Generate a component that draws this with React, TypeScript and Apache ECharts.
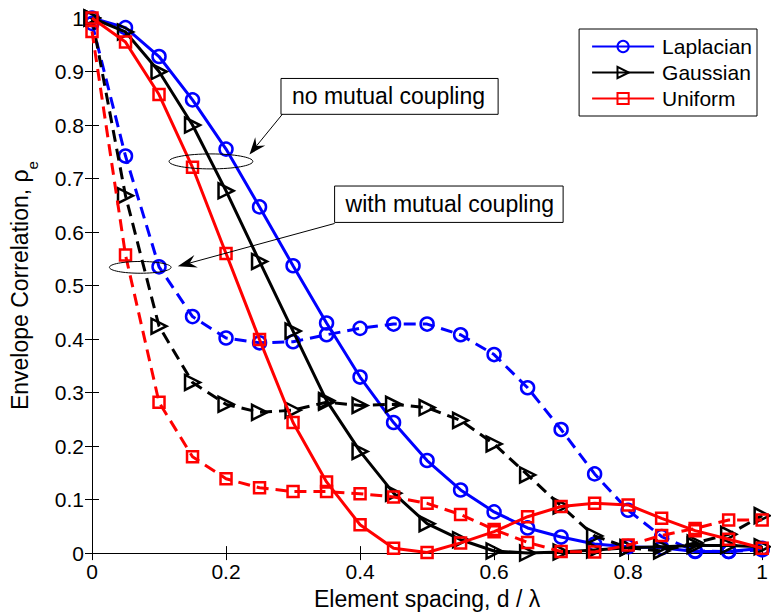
import React, { useEffect, useRef } from "react";
import * as echarts from "echarts";

// Element spacing d / lambda
const spacing = [0, 0.05, 0.1, 0.15, 0.2, 0.25, 0.3, 0.35, 0.4, 0.45, 0.5, 0.55, 0.6, 0.65, 0.7, 0.75, 0.8, 0.85, 0.9, 0.95, 1.0];

// No mutual coupling (solid)
const laplacianNoMC = [1.0, 0.982, 0.928, 0.847, 0.755, 0.647, 0.537, 0.43, 0.329, 0.244, 0.173, 0.118, 0.077, 0.047, 0.03, 0.017, 0.012, 0.01, 0.003, 0.003, 0.009];
const gaussianNoMC = [1.0, 0.974, 0.9, 0.8, 0.677, 0.545, 0.415, 0.285, 0.19, 0.112, 0.055, 0.025, 0.004, 0.0, 0.002, 0.006, 0.01, 0.012, 0.014, 0.014, 0.012];
const uniformNoMC = [1.0, 0.955, 0.857, 0.721, 0.56, 0.399, 0.244, 0.133, 0.053, 0.009, 0.001, 0.019, 0.04, 0.068, 0.087, 0.093, 0.09, 0.065, 0.042, 0.026, 0.009];

// With mutual coupling (dashed)
const laplacianMC = [0.99, 0.742, 0.535, 0.442, 0.402, 0.393, 0.395, 0.408, 0.42, 0.428, 0.428, 0.408, 0.371, 0.309, 0.231, 0.148, 0.08, 0.031, 0.004, 0.003, 0.006];
const gaussianMC = [1.0, 0.668, 0.424, 0.319, 0.278, 0.263, 0.267, 0.282, 0.276, 0.278, 0.272, 0.248, 0.204, 0.146, 0.088, 0.032, 0.01, 0.004, 0.019, 0.035, 0.07];
const uniformMC = [0.975, 0.557, 0.282, 0.18, 0.139, 0.122, 0.115, 0.115, 0.111, 0.105, 0.093, 0.072, 0.044, 0.02, 0.003, 0.002, 0.015, 0.033, 0.046, 0.062, 0.062];

const legendNames = ["Laplacian", "Gaussian", "Uniform"];

// Annotation texts
const noMcLabel = "no mutual coupling";
const mcLabel = "with mutual coupling";

const FONT = "'Liberation Sans', Arial, Helvetica, sans-serif";

export default function App() {
  const ref = useRef<HTMLDivElement>(null);

  useEffect(() => {
    const chart = echarts.init(ref.current!, null, { renderer: "svg" });

    const mk = (
      name: string,
      values: number[],
      color: string,
      symbol: string,
      size: number,
      dashed: boolean,
      rotate: number,
      z: number
    ) => ({
      type: "line",
      name,
      data: spacing.map((x, i) => [x, values[i]]),
      symbol,
      symbolSize: size,
      symbolRotate: rotate,
      showAllSymbol: true,
      clip: false,
      silent: true,
      z,
      lineStyle: { color, width: 3, type: dashed ? [12, 7] : "solid" },
      itemStyle: { color: "rgba(255,255,255,0)", borderColor: color, borderWidth: 2.5 },
      emphasis: { disabled: true },
    });

    const axisCommon = {
      type: "value",
      min: 0,
      max: 1,
      axisLine: { show: true, lineStyle: { color: "#000", width: 1 } },
      axisTick: { show: true, inside: true, length: 7, lineStyle: { color: "#000", width: 1 } },
      splitLine: { show: false },
    };

    chart.setOption({
      animation: false,
      backgroundColor: "#fff",
      grid: { left: 90, right: 1, top: 18, bottom: 58, containLabel: false },
      legend: {
        data: legendNames,
        orient: "vertical",
        right: 14,
        top: 29,
        backgroundColor: "#fff",
        borderColor: "#000",
        borderWidth: 1,
        borderRadius: 0,
        padding: [7, 5, 7, 12],
        itemWidth: 62,
        itemHeight: 14,
        itemGap: 5,
        selectedMode: false,
        textStyle: { fontSize: 21, fontFamily: FONT, color: "#000", padding: [0, 0, 0, 3] },
      },
      xAxis: [
        {
          ...axisCommon,
          interval: 0.2,
          position: "bottom",
          axisLabel: { fontSize: 21, fontFamily: FONT, color: "#000", margin: 8 },
          name: "Element spacing, d / λ",
          nameLocation: "middle",
          nameGap: 30,
          nameTextStyle: { fontSize: 23, fontFamily: FONT, color: "#000" },
        },
        {
          ...axisCommon,
          interval: 0.2,
          position: "top",
          axisLabel: { show: false },
        },
      ],
      yAxis: [
        {
          ...axisCommon,
          interval: 0.1,
          position: "left",
          axisLabel: { fontSize: 21, fontFamily: FONT, color: "#000", margin: 8 },
          name: "{m|Envelope Correlation, ρ}{sub|e}",
          nameLocation: "middle",
          nameGap: 52,
          nameRotate: 90,
          nameTextStyle: {
            fontSize: 23,
            fontFamily: FONT,
            color: "#000",
            rich: {
              m: { fontSize: 23, fontFamily: FONT, color: "#000", lineHeight: 23, verticalAlign: "top" },
              sub: { fontSize: 15, fontFamily: FONT, color: "#000", lineHeight: 32, verticalAlign: "bottom" },
            },
          },
        },
        {
          ...axisCommon,
          interval: 0.1,
          position: "right",
          axisLabel: { show: false },
        },
      ],
      series: [
        mk("Laplacian", laplacianNoMC, "#0000ff", "circle", 13, false, 0, 2),
        mk("Laplacian MC", laplacianMC, "#0000ff", "circle", 13, true, 0, 2),
        mk("Gaussian", gaussianNoMC, "#000000", "triangle", 15, false, -90, 3),
        mk("Gaussian MC", gaussianMC, "#000000", "triangle", 15, true, -90, 3),
        mk("Uniform", uniformNoMC, "#ff0000", "rect", 11, false, 0, 4),
        mk("Uniform MC", uniformMC, "#ff0000", "rect", 11, true, 0, 4),
      ],
    });

    const px = (p: number[]) => chart.convertToPixel({ gridIndex: 0 }, p) as number[];

    const arrow = (from: number[], to: number[], len: number, half: number) => {
      const dx = to[0] - from[0];
      const dy = to[1] - from[1];
      const L = Math.hypot(dx, dy);
      const ux = dx / L;
      const uy = dy / L;
      const nx = -uy;
      const ny = ux;
      const bx = to[0] - ux * len;
      const by = to[1] - uy * len;
      const notch = [to[0] - ux * len * 0.65, to[1] - uy * len * 0.65];
      return [
        {
          type: "line",
          shape: { x1: from[0], y1: from[1], x2: notch[0], y2: notch[1] },
          style: { stroke: "#000", lineWidth: 1 },
          z: 100,
        },
        {
          type: "polygon",
          shape: {
            points: [
              [to[0], to[1]],
              [bx + nx * half, by + ny * half],
              notch,
              [bx - nx * half, by - ny * half],
            ],
          },
          style: { fill: "#000" },
          z: 100,
        },
      ];
    };

    const ellipse = (x0: number, y0: number, x1: number, y1: number) => {
      const a = px([x0, y0]);
      const b = px([x1, y1]);
      return {
        type: "ellipse",
        shape: { cx: (a[0] + b[0]) / 2, cy: (a[1] + b[1]) / 2, rx: Math.abs(b[0] - a[0]) / 2, ry: Math.abs(b[1] - a[1]) / 2 },
        style: { fill: "none", stroke: "#000", lineWidth: 1 },
        z: 100,
      };
    };

    const box = (x0: number, y0: number, x1: number, y1: number, text: string, pad: number) => {
      const a = px([x0, y0]);
      const b = px([x1, y1]);
      return [
        {
          type: "rect",
          shape: { x: a[0], y: a[1], width: b[0] - a[0], height: b[1] - a[1] },
          style: { fill: "#fff", stroke: "#000", lineWidth: 1 },
          z: 100,
        },
        {
          type: "text",
          x: a[0] + pad,
          y: (a[1] + b[1]) / 2,
          style: { text, fontSize: 23, fontFamily: FONT, fill: "#000", align: "left", verticalAlign: "middle" },
          z: 101,
        },
      ];
    };

    chart.setOption({
      graphic: [
        ellipse(0.115, 0.746, 0.24, 0.718),
        ...box(0.282, 0.887, 0.606, 0.82, noMcLabel, 11),
        ...arrow(px([0.284, 0.82]), px([0.235, 0.745]), 17, 6.5),
        ellipse(0.026, 0.545, 0.118, 0.523),
        ...box(0.362, 0.686, 0.703, 0.618, mcLabel, 11),
        ...arrow(px([0.362, 0.616]), px([0.128, 0.536]), 19, 6.5),
      ],
    });

    return () => chart.dispose();
  }, []);

  return (
    <div
      ref={ref}
      style={{ position: "fixed", left: 0, top: 0, width: 771, height: 615, background: "#fff" }}
    />
  );
}
